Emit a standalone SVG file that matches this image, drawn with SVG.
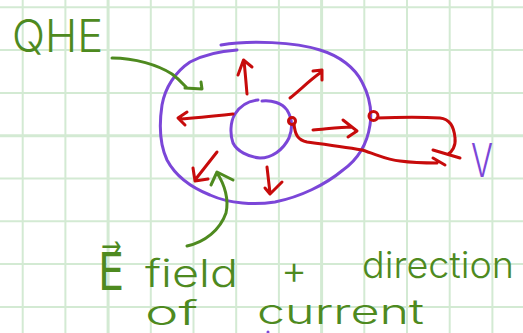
<svg xmlns="http://www.w3.org/2000/svg" width="523" height="333" viewBox="0 0 523 333">
<style>
.g{stroke:#d3ead3;stroke-width:2}
.gt{stroke:#d3ead3;stroke-width:3}
.s{fill:none;stroke-linecap:round;stroke-linejoin:round;stroke-width:3}
.red{stroke:#c70b0b}
.pur{stroke:#7b46d8}
.grn{stroke:#4e8a1f}
.t{fill:#4e8a1f;font-family:Inter,"DejaVu Sans",sans-serif;font-weight:300}
</style>
<rect width="523" height="333" fill="#ffffff"/>
<g id="grid">
<line class="g" x1="22.7" y1="0" x2="22.7" y2="333"/>
<line class="g" x1="65.4" y1="0" x2="65.4" y2="333"/>
<line class="gt" x1="108.1" y1="0" x2="108.1" y2="333"/>
<line class="g" x1="150.8" y1="0" x2="150.8" y2="333"/>
<line class="g" x1="193.5" y1="0" x2="193.5" y2="333"/>
<line class="g" x1="236.2" y1="0" x2="236.2" y2="333"/>
<line class="g" x1="278.9" y1="0" x2="278.9" y2="333"/>
<line class="gt" x1="321.6" y1="0" x2="321.6" y2="333"/>
<line class="g" x1="364.3" y1="0" x2="364.3" y2="333"/>
<line class="g" x1="407" y1="0" x2="407" y2="333"/>
<line class="g" x1="449.7" y1="0" x2="449.7" y2="333"/>
<line class="g" x1="492.4" y1="0" x2="492.4" y2="333"/>
<line class="g" x1="0" y1="7.3" x2="523" y2="7.3"/>
<line class="g" x1="0" y1="50.1" x2="523" y2="50.1"/>
<line class="g" x1="0" y1="92.9" x2="523" y2="92.9"/>
<line class="gt" x1="0" y1="135.7" x2="523" y2="135.7"/>
<line class="g" x1="0" y1="178.5" x2="523" y2="178.5"/>
<line class="g" x1="0" y1="221.3" x2="523" y2="221.3"/>
<line class="g" x1="0" y1="264.1" x2="523" y2="264.1"/>
<line class="g" x1="0" y1="306.9" x2="523" y2="306.9"/>
</g>
<g id="outer-loop">
<path class="s pur" d="M221,45 C250,40 295,42 320,50 C340,56 355,68 362,82 C370,97 372,112 370,125 C367,145 357,160 343,170 C325,185 300,197 275,202 C255,205 230,204 210,195 C190,187 175,175 167,160 C160,145 159,125 162,105 C165,88 175,72 190,62 C205,54 222,51 237,50"/>
</g>
<g id="inner-loop">
<path class="s pur" d="M258,100 C248,101 240,106 235,114 C230,122 230,135 233,143 C237,151 248,157 260,158 C272,158 283,150 289,138 C293,128 292,118 287,110 C282,103 272,100 262,101"/>
</g>
<g id="field-arrows">
<path class="s red" d="M247,94 C246,82 245,70 244,61 M238,75 L243.5,60 L252,67"/>
<path class="s red" d="M233,114 C215,116 197,118 180,119 M187,112 L178,118 L185,125"/>
<path class="s red" d="M290,98 C300,90 310,80 320,73 M313,71 L322,70 L322,80"/>
<path class="s red" d="M313,130 C326,129 340,127 352,127 M343,120 L357,131 L348,137"/>
<path class="s red" d="M217,152 C210,161 202,171 195,180 M193,168 L195,181 L208,179"/>
<path class="s red" d="M267,167 C268,176 269,185 270,193 M265,188 L270,194 L282,182"/>
</g>
<g id="voltmeter-wires">
<circle class="s red" cx="292" cy="121" r="3.5"/>
<circle class="s red" cx="373.5" cy="116" r="4.5"/>
<path class="s red" d="M377,118 C400,117 425,117 440,118 C450,119 454,126 455,138 C456,146 452,152 448,154 M433,150 L460,158"/>
<path class="s red" d="M294,124 C295,135 298,140 307,142 C330,145 345,147 362,150 C378,155 388,160 400,161 C415,163 425,163 437,163 M433,158 L445,165"/>
</g>
<g id="label-arrows">
<path class="s grn" d="M112,58 C135,58 158,65 172,74 C180,80 184,85 187,88 M185,88 L202,89 L201,82"/>
<path class="s grn" d="M187,246 C205,242 220,230 226,213 C229,200 225,185 217,173 M211,185 L217,172 L233,180"/>
</g>
<g id="labels">
<text class="t" x="12" y="52" font-size="45" textLength="91" lengthAdjust="spacingAndGlyphs">QHE</text>
<text x="98" y="290" font-size="52" textLength="26" lengthAdjust="spacingAndGlyphs" fill="#4e8a1f" font-family="DejaVu Sans, sans-serif">E⃗</text>
<text class="t" x="145" y="287" font-size="38" textLength="93" lengthAdjust="spacingAndGlyphs">field</text>
<text class="t" x="294" y="284" font-size="40" text-anchor="middle">+</text>
<text class="t" x="362" y="278" font-size="37" textLength="152" lengthAdjust="spacingAndGlyphs">direction</text>
<text class="t" x="145" y="325" font-size="34" textLength="53" lengthAdjust="spacingAndGlyphs">of</text>
<text class="t" x="257" y="324" font-size="35" textLength="167" lengthAdjust="spacingAndGlyphs">current</text>
<text x="471" y="177" font-size="46" textLength="22" lengthAdjust="spacingAndGlyphs" fill="#7b46d8" font-family="Inter, sans-serif" font-weight="300">V</text>
<circle cx="268" cy="332" r="1.5" fill="#7b46d8"/>
</g>
</svg>
